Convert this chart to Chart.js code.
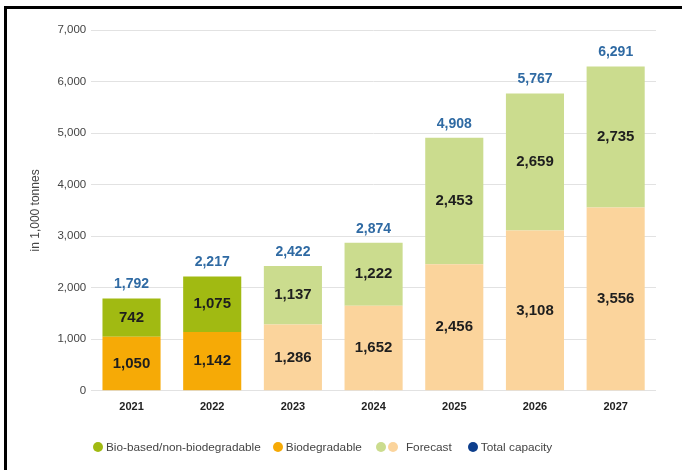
<!DOCTYPE html>
<html>
<head>
<meta charset="utf-8">
<script src="https://cdn.jsdelivr.net/npm/chart.js@4.4.1/dist/chart.umd.min.js"></script>
<style>
    html, body { margin: 0; padding: 0; background: #fff; }
    #wrap {
        position: relative;
        width: 682px;
        height: 470px;
        overflow: hidden;
    }
    #frame {
        position: absolute;
        left: 4px;
        top: 6px;
        right: -10px;
        bottom: -10px;
        border-left: 3px solid #000;
        border-top: 3px solid #000;
        pointer-events: none;
    }
    #legend {
        position: absolute;
        left: 93px;
        top: 440px;
        display: flex;
        align-items: center;
        font-family: "Liberation Sans", Arial, sans-serif;
        font-size: 11.8px;
        color: #444;
    }
    #legend .item { display: flex; align-items: center; margin-right: 12px; }
    #legend .dot {
        width: 10px; height: 10px; border-radius: 50%;
        display: inline-block; margin-right: 3px;
    }
</style>
</head>
<body>
<div id="wrap">
    <canvas id="chart" width="682" height="470"></canvas>
    <div id="frame"></div>
    <div id="legend">
        <span class="item"><span class="dot" style="background:#a1ba12"></span>Bio-based/non-biodegradable</span>
        <span class="item"><span class="dot" style="background:#f6aa06"></span>Biodegradable</span>
        <span class="item" style="margin-left:2px"><span class="dot" style="background:#cbdc8e;margin-right:2px"></span><span class="dot" style="background:#fbd49c;margin-right:8px"></span>Forecast</span>
        <span class="item" style="margin-left:4px"><span class="dot" style="background:#0d3e8c"></span>Total capacity</span>
    </div>
</div>

<script>
// Production capacity, in 1,000 tonnes
const years = ['2021', '2022', '2023', '2024', '2025', '2026', '2027'];
const biodegradable = [1050, 1142, null, null, null, null, null];
const bioBased = [742, 1075, null, null, null, null, null];
const forecastBiodegradable = [null, null, 1286, 1652, 2456, 3108, 3556];
const forecastBioBased = [null, null, 1137, 1222, 2453, 2659, 2735];
const totalCapacity = [1792, 2217, 2422, 2874, 4908, 5767, 6291];
const yTicks = [0, 1000, 2000, 3000, 4000, 5000, 6000, 7000];

const FONT = "'Liberation Sans', Arial, sans-serif";

function fmt(v) {
    return v.toLocaleString('en-US');
}

// Writes segment values inside the bars and the totals above each stack
const barLabels = {
    id: 'barLabels',
    afterDatasetsDraw(chart) {
        const ctx = chart.ctx;
        ctx.save();
        ctx.textAlign = 'center';
        ctx.textBaseline = 'middle';

        chart.data.datasets.forEach((ds, di) => {
            if (ds.type === 'line') return;
            const meta = chart.getDatasetMeta(di);
            meta.data.forEach((bar, i) => {
                const v = ds.data[i];
                if (v == null) return;
                ctx.font = 'bold 15px ' + FONT;
                ctx.fillStyle = '#1e1e1e';
                ctx.fillText(fmt(v), bar.x, (bar.y + bar.base) / 2);
            });
        });

        const totalsIdx = chart.data.datasets.findIndex(d => d.type === 'line');
        const tMeta = chart.getDatasetMeta(totalsIdx);
        tMeta.data.forEach((pt, i) => {
            ctx.font = 'bold 14px ' + FONT;
            ctx.fillStyle = '#2f6aa3';
            ctx.fillText(fmt(totalCapacity[i]), pt.x, pt.y - 14);
        });
        ctx.restore();
    }
};

new Chart(document.getElementById('chart'), {
    type: 'bar',
    data: {
        labels: years,
        datasets: [
            {
                label: 'Biodegradable',
                data: biodegradable,
                backgroundColor: '#f6aa06',
                stack: 's'
            },
            {
                label: 'Forecast biodegradable',
                data: forecastBiodegradable,
                backgroundColor: '#fbd49c',
                stack: 's'
            },
            {
                label: 'Bio-based/non-biodegradable',
                data: bioBased,
                backgroundColor: '#a1ba12',
                stack: 's'
            },
            {
                label: 'Forecast bio-based',
                data: forecastBioBased,
                backgroundColor: '#cbdc8e',
                stack: 's'
            },
            {
                type: 'line',
                label: 'Total capacity',
                data: totalCapacity,
                showLine: false,
                pointRadius: 0,
                pointHoverRadius: 0,
                stack: 'total'
            }
        ]
    },
    options: {
        responsive: false,
        animation: false,
        barPercentage: 0.72,
        categoryPercentage: 1,
        layout: {
            padding: { left: 24, right: 26, top: 30, bottom: 54 }
        },
        plugins: {
            legend: { display: false },
            tooltip: { enabled: false }
        },
        scales: {
            x: {
                stacked: true,
                grid: { display: false },
                border: { display: false },
                ticks: {
                    color: '#222',
                    padding: 2,
                    font: { size: 11, weight: 'bold', family: FONT }
                }
            },
            y: {
                stacked: true,
                min: 0,
                max: 7000,
                afterBuildTicks(axis) {
                    axis.ticks = yTicks.map(v => ({ value: v }));
                },
                grid: {
                    color: '#e2e2e2',
                    drawTicks: false
                },
                border: { display: false },
                ticks: {
                    color: '#444',
                    padding: 5,
                    font: { size: 11.5, family: FONT },
                    callback: v => fmt(v)
                },
                title: {
                    display: true,
                    text: 'in 1,000 tonnes',
                    color: '#444',
                    padding: { bottom: 10 },
                    font: { size: 12, family: FONT }
                }
            }
        }
    },
    plugins: [barLabels]
});
</script>
</body>
</html>
